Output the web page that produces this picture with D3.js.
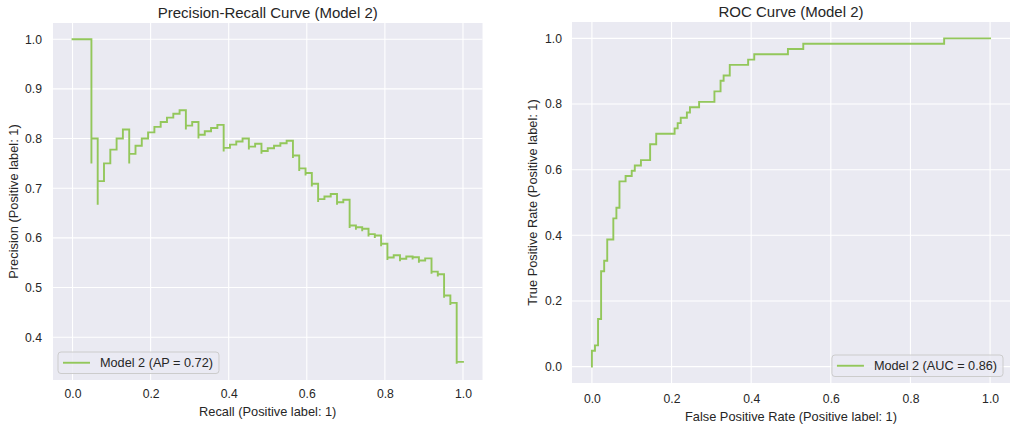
<!DOCTYPE html>
<html><head><meta charset="utf-8">
<script src="https://cdn.jsdelivr.net/npm/d3@7"></script>
<style>
body{margin:0;background:#fff;}
svg{display:block;font-family:"Liberation Sans",Arial,sans-serif;}
</style>
</head><body>
<svg id="c" width="1024" height="428"></svg>
<script>
// ---------- data ----------
const prRecall = [0,0.0161,0.0323,0.0484,0.0484,0.0645,0.0645,0.0806,0.0968,0.1129,0.1290,0.1452,0.1452,
  0.1613,0.1774,0.1935,0.2097,0.2258,0.2419,0.2581,0.2742,0.2903,0.2903,0.3065,0.3226,0.3226,
  0.3387,0.3548,0.3710,0.3871,0.3871,0.4032,0.4194,0.4355,0.4516,0.4516,0.4677,0.4839,0.4839,
  0.5000,0.5161,0.5323,0.5484,0.5645,0.5645,0.5806,0.5806,0.5968,0.5968,0.6129,0.6129,0.6290,0.6290,
  0.6452,0.6613,0.6774,0.6774,0.6935,0.7097,0.7097,0.7258,0.7258,0.7419,0.7419,0.7581,0.7581,
  0.7742,0.7742,0.7903,0.7903,0.8065,0.8065,0.8226,0.8387,0.8387,0.8548,0.8710,0.8710,0.8871,0.8871,
  0.9032,0.9194,0.9194,0.9355,0.9355,0.9516,0.9516,0.9677,0.9677,0.9839,0.9839,1.0];
const prPrecision = [1.0,1.0,1.0,1.0,0.75,0.8,0.6667,0.7143,0.75,0.7778,0.8,0.8182,0.75,
  0.7692,0.7857,0.8,0.8125,0.8235,0.8333,0.8421,0.85,0.8571,0.8182,0.8261,0.8333,0.8,
  0.8077,0.8148,0.8214,0.8276,0.7742,0.7813,0.7879,0.7941,0.8,0.7778,0.7838,0.7895,0.7692,
  0.775,0.7805,0.7857,0.7907,0.7955,0.7609,0.7660,0.7347,0.74,0.7255,0.7308,0.7037,0.7091,0.6724,
  0.6780,0.6833,0.6885,0.6667,0.6719,0.6769,0.6197,0.625,0.6164,0.6216,0.6133,0.6184,0.6026,
  0.6076,0.6,0.6049,0.5833,0.5882,0.5556,0.5604,0.5652,0.5532,0.5579,0.5625,0.5567,0.5612,0.55,
  0.5545,0.5588,0.5278,0.5321,0.5225,0.5268,0.4797,0.4839,0.4651,0.4692,0.3466,0.3503];

const rocFpr = [0,0,0.0077,0.0077,0.0154,0.0154,0.0231,0.0231,0.0308,0.0308,0.0385,0.0385,0.0538,0.0538,
  0.0615,0.0615,0.0692,0.0692,0.0846,0.0846,0.1,0.1,0.1077,0.1077,0.1231,0.1231,0.1462,0.1462,
  0.1615,0.1615,0.2077,0.2077,0.2154,0.2154,0.2231,0.2231,0.2385,0.2385,0.2462,0.2462,0.2692,0.2692,
  0.3077,0.3077,0.3231,0.3231,0.3308,0.3308,0.3462,0.3462,0.3923,0.3923,0.4077,0.4077,0.4923,0.4923,
  0.5308,0.5308,0.8846,0.8846,1.0];
const rocTpr = [0,0.0484,0.0484,0.0645,0.0645,0.1452,0.1452,0.2903,0.2903,0.3226,0.3226,0.3871,0.3871,0.4516,
  0.4516,0.4839,0.4839,0.5645,0.5645,0.5806,0.5806,0.5968,0.5968,0.6129,0.6129,0.6290,0.6290,0.6774,
  0.6774,0.7097,0.7097,0.7258,0.7258,0.7419,0.7419,0.7581,0.7581,0.7742,0.7742,0.7903,0.7903,0.8065,
  0.8065,0.8387,0.8387,0.8710,0.8710,0.8871,0.8871,0.9194,0.9194,0.9355,0.9355,0.9516,0.9516,0.9677,
  0.9677,0.9839,0.9839,1.0,1.0];

const prXTicks = [0,0.2,0.4,0.6,0.8,1.0];
const prYTicks = [0.4,0.5,0.6,0.7,0.8,0.9,1.0];
const rocXTicks = [0,0.2,0.4,0.6,0.8,1.0];
const rocYTicks = [0,0.2,0.4,0.6,0.8,1.0];

const titles = ["Precision-Recall Curve (Model 2)", "ROC Curve (Model 2)"];
const xLabels = ["Recall (Positive label: 1)", "False Positive Rate (Positive label: 1)"];
const yLabels = ["Precision (Positive label: 1)", "True Positive Rate (Positive label: 1)"];
const legendLabels = ["Model 2 (AP = 0.72)", "Model 2 (AUC = 0.86)"];

// ---------- layout / style ----------
const LINE = "#93c75b";
const TEXT = "#262626";
const panels = [
  {x: prRecall, y: prPrecision, curve: d3.curveStepBefore, xt: prXTicks, yt: prYTicks,
   left: 53, right: 482.5, top: 23, bottom: 380, xd: [-0.05, 1.05], yd: [0.3139, 1.0327],
   xPad: 9, yPad: 11, xLabY: 416, yLabX: 14, titleY: 17.5, legend: "left"},
  {x: rocFpr, y: rocTpr, curve: d3.curveLinear, xt: rocXTicks, yt: rocYTicks,
   left: 572, right: 1010, top: 22, bottom: 383, xd: [-0.05, 1.05], yd: [-0.05, 1.05],
   xPad: 11, yPad: 10, xLabY: 420.5, yLabX: 533, titleY: 16.5, legend: "right"}
];

const svg = d3.select("#c");

panels.forEach((p, i) => {
  const xs = d3.scaleLinear().domain(p.xd).range([p.left, p.right]);
  const ys = d3.scaleLinear().domain(p.yd).range([p.bottom, p.top]);
  const g = svg.append("g");

  g.append("rect").attr("x", p.left).attr("y", p.top)
    .attr("width", p.right - p.left).attr("height", p.bottom - p.top).attr("fill", "#eaeaf2");

  // grid
  g.append("g").selectAll("line").data(p.xt).join("line")
    .attr("x1", d => xs(d)).attr("x2", d => xs(d)).attr("y1", p.top).attr("y2", p.bottom)
    .attr("stroke", "#fff").attr("stroke-width", 1.1);
  g.append("g").selectAll("line").data(p.yt).join("line")
    .attr("y1", d => ys(d)).attr("y2", d => ys(d)).attr("x1", p.left).attr("x2", p.right)
    .attr("stroke", "#fff").attr("stroke-width", 1.1);

  // axes
  const ax = g.append("g").attr("transform", `translate(0,${p.bottom})`)
    .call(d3.axisBottom(xs).tickValues(p.xt).tickFormat(d3.format(".1f")).tickSize(0).tickPadding(p.xPad));
  const ay = g.append("g").attr("transform", `translate(${p.left},0)`)
    .call(d3.axisLeft(ys).tickValues(p.yt).tickFormat(d3.format(".1f")).tickSize(0).tickPadding(p.yPad));
  [ax, ay].forEach(a => {
    a.select(".domain").remove();
    a.selectAll("text").attr("font-size", 12.2).attr("fill", TEXT)
      .attr("font-family", '"Liberation Sans",Arial,sans-serif');
  });

  // curve
  const pts = p.x.map((v, k) => [v, p.y[k]]);
  g.append("path").datum(pts)
    .attr("d", d3.line().x(d => xs(d[0])).y(d => ys(d[1])).curve(p.curve))
    .attr("fill", "none").attr("stroke", LINE).attr("stroke-width", 1.9)
    .attr("stroke-linejoin", "miter").attr("stroke-linecap", "square");

  // title & labels
  const cx = (p.left + p.right) / 2, cy = (p.top + p.bottom) / 2;
  g.append("text").attr("x", cx).attr("y", p.titleY).attr("text-anchor", "middle")
    .attr("font-size", 15).attr("fill", TEXT).text(titles[i]);
  g.append("text").attr("x", cx).attr("y", p.xLabY).attr("text-anchor", "middle")
    .attr("font-size", 12.8).attr("fill", TEXT).text(xLabels[i]);
  g.append("text").attr("transform", `translate(${p.yLabX},${cy}) rotate(-90)`)
    .attr("text-anchor", "middle").attr("dy", "0.35em")
    .attr("font-size", 12.8).attr("fill", TEXT).text(yLabels[i]);

  // legend
  const lg = g.append("g");
  const box = lg.append("rect").attr("rx", 3).attr("ry", 3)
    .attr("fill", "#eaeaf2").attr("fill-opacity", 0.8).attr("stroke", "#cccccc").attr("stroke-width", 1);
  const txt = lg.append("text").attr("font-size", 12.7).attr("fill", TEXT).text(legendLabels[i]);
  const tl = txt.node().getComputedTextLength();
  const bw = 42 + tl + 6, bh = 21.5;
  const bx = p.legend === "left" ? p.left + 5 : p.right - 7 - bw;
  const by = p.bottom - 6.5 - bh;
  box.attr("x", bx).attr("y", by).attr("width", bw).attr("height", bh);
  lg.append("line").attr("x1", bx + 5).attr("x2", bx + 32).attr("y1", by + bh / 2).attr("y2", by + bh / 2)
    .attr("stroke", LINE).attr("stroke-width", 1.9);
  txt.attr("x", bx + 42).attr("y", by + bh / 2 + 4.5);
});
</script>
</body></html>
